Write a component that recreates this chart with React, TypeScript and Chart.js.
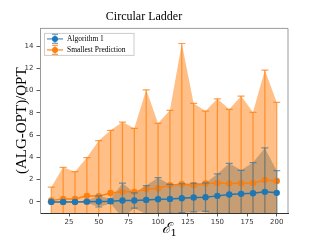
import React, { useEffect, useRef } from "react";
import { Chart, registerables } from "chart.js";
Chart.register(...registerables);

const xValues = [10, 20, 30, 40, 50, 60, 70, 80, 90, 100, 110, 120, 130, 140, 150, 160, 170, 180, 190, 200];
const algMean = [0.0, 0.0, 0.0, 0.02, 0.04, 0.06, 0.12, 0.12, 0.18, 0.24, 0.27, 0.33, 0.39, 0.42, 0.54, 0.66, 0.72, 0.78, 0.9, 0.81];
const algStd = [0.0, 0.0, 0.0, 0.1, 0.5, 0.2, 1.56, 0.69, 1.29, 1.94, 1.3, 1.3, 1.29, 1.28, 1.97, 2.81, 2.12, 2.75, 3.95, 2.0];
const predMean = [0.12, 0.27, 0.27, 0.54, 0.5, 0.8, 0.9, 0.9, 1.14, 1.22, 1.5, 1.58, 1.5, 1.65, 1.7, 1.65, 1.68, 1.7, 1.97, 1.88];
const predStd = [1.2, 2.84, 2.45, 3.44, 5.0, 5.63, 6.28, 5.71, 8.94, 5.84, 6.73, 12.66, 7.35, 6.52, 7.57, 6.67, 7.83, 6.35, 9.88, 7.06];
const xTicks = [25, 50, 75, 100, 125, 150, 175, 200];
const yTicks = [0, 2, 4, 6, 8, 10, 12, 14];
const seriesNames = ["Algorithm 1", "Smallest Prediction"];
const chartTitle = "Circular Ladder";
const xTitleMain = "ℰ";
const xTitleSub = "1";
const yTitle = "(ALG-OPT)/OPT";

const BLUE = "#1f77b4";
const ORANGE = "#ff7f0e";
const BLUE_ERR = "rgba(31,119,180,0.65)";
const ORANGE_ERR = "rgba(255,127,14,0.75)";
const SERIF = "'Liberation Serif', 'DejaVu Serif', serif";
const SANS = "'DejaVu Sans', sans-serif";

function pts(ys: number[]) {
  return xValues.map((x, i) => ({ x, y: ys[i] }));
}
function band(mean: number[], std: number[], sign: number) {
  return xValues.map((x, i) => ({ x, y: mean[i] + sign * std[i] }));
}
function errSegments(mean: number[], std: number[]) {
  const out: { x: number; y: number | null }[] = [];
  xValues.forEach((x, i) => {
    out.push({ x, y: mean[i] - std[i] });
    out.push({ x, y: mean[i] + std[i] });
    out.push({ x, y: null });
  });
  return out;
}

function drawHandle(ctx: CanvasRenderingContext2D, x: number, y: number, color: string, errColor: string) {
  // x: left of handle, y: center
  ctx.strokeStyle = errColor;
  ctx.lineWidth = 1.5;
  ctx.beginPath();
  ctx.moveTo(x, y);
  ctx.lineTo(x + 16, y);
  ctx.stroke();
  ctx.lineWidth = 1.1;
  ctx.beginPath();
  ctx.moveTo(x + 8, y - 4.5);
  ctx.lineTo(x + 8, y + 4.5);
  ctx.moveTo(x + 5, y - 4.5);
  ctx.lineTo(x + 11, y - 4.5);
  ctx.moveTo(x + 5, y + 4.5);
  ctx.lineTo(x + 11, y + 4.5);
  ctx.stroke();
  ctx.fillStyle = color;
  ctx.beginPath();
  ctx.arc(x + 8, y, 3, 0, Math.PI * 2);
  ctx.fill();
}

const framePlugin = {
  id: "frame",
  afterDraw(chart: any) {
    const { ctx, chartArea } = chart;
    ctx.save();
    // top and right spines
    ctx.strokeStyle = "#9a9a9a";
    ctx.lineWidth = 1;
    ctx.beginPath();
    ctx.moveTo(chartArea.left, chartArea.top);
    ctx.lineTo(chartArea.right, chartArea.top);
    ctx.lineTo(chartArea.right, chartArea.bottom);
    ctx.stroke();

    // legend
    const lx = chartArea.left + 4.5;
    const ly = chartArea.top + 5;
    ctx.fillStyle = "rgba(255,255,255,0.8)";
    ctx.fillRect(lx, ly, 89.5, 22);
    ctx.strokeStyle = "#cccccc";
    ctx.lineWidth = 1;
    ctx.strokeRect(lx, ly, 89.5, 22);
    const colors = [BLUE, ORANGE];
    const errs = [BLUE_ERR, ORANGE_ERR];
    seriesNames.forEach((n, i) => {
      const cy = ly + 5.5 + i * 11;
      drawHandle(ctx, lx + 2.5, cy, colors[i], errs[i]);
      ctx.fillStyle = "#000";
      ctx.font = `7.5px ${SERIF}`;
      ctx.textAlign = "left";
      ctx.textBaseline = "middle";
      ctx.fillText(n, lx + 22.5, cy + 0.5);
    });

    // x title
    const cx = (chartArea.left + chartArea.right) / 2;
    ctx.fillStyle = "#000";
    ctx.textBaseline = "alphabetic";
    ctx.textAlign = "left";
    ctx.font = `italic 15px 'DejaVu Serif', serif`;
    const w = ctx.measureText(xTitleMain).width;
    ctx.fillText(xTitleMain, cx - 1 - w / 2 + 3, 233);
    ctx.font = `10px 'DejaVu Serif', serif`;
    ctx.fillText(xTitleSub, cx + w / 2 + 2, 236);
    ctx.restore();
  },
};

export default function App() {
  const ref = useRef<HTMLCanvasElement>(null);
  useEffect(() => {
    document.body.style.margin = "0";
    const chart = new Chart(ref.current!, {
      type: "line",
      data: {
        datasets: [
          {
            label: seriesNames[0],
            data: pts(algMean),
            borderColor: BLUE,
            backgroundColor: BLUE,
            borderWidth: 1.5,
            pointRadius: 3.2,
            pointBorderWidth: 0,
            pointBackgroundColor: BLUE,
            fill: false,
            order: 1,
          },
          {
            label: "alg-err",
            data: errSegments(algMean, algStd),
            borderColor: BLUE_ERR,
            borderWidth: 1.2,
            pointStyle: "line",
            pointRadius: 3.5,
            pointBorderColor: BLUE_ERR,
            pointBorderWidth: 1.2,
            spanGaps: false,
            fill: false,
            order: 2,
          },
          {
            label: seriesNames[1],
            data: pts(predMean),
            borderColor: ORANGE,
            backgroundColor: ORANGE,
            borderWidth: 1.5,
            pointRadius: 3.2,
            pointBorderWidth: 0,
            pointBackgroundColor: ORANGE,
            fill: false,
            order: 3,
          },
          {
            label: "pred-err",
            data: errSegments(predMean, predStd),
            borderColor: ORANGE_ERR,
            borderWidth: 1.2,
            pointStyle: "line",
            pointRadius: 3.5,
            pointBorderColor: ORANGE_ERR,
            pointBorderWidth: 1.2,
            spanGaps: false,
            fill: false,
            order: 4,
          },
          {
            label: "pred-up",
            data: band(predMean, predStd, 1),
            borderWidth: 0,
            pointRadius: 0,
            backgroundColor: "rgba(255,127,14,0.5)",
            fill: "+1",
            order: 5,
          },
          {
            label: "pred-lo",
            data: band(predMean, predStd, -1),
            borderWidth: 0,
            pointRadius: 0,
            fill: false,
            order: 6,
          },
          {
            label: "alg-up",
            data: band(algMean, algStd, 1),
            borderWidth: 0,
            pointRadius: 0,
            backgroundColor: "rgba(31,119,180,0.5)",
            fill: "+1",
            order: 7,
          },
          {
            label: "alg-lo",
            data: band(algMean, algStd, -1),
            borderWidth: 0,
            pointRadius: 0,
            fill: false,
            order: 8,
          },
        ] as any,
      },
      options: {
        animation: false,
        responsive: false,
        events: [],
        layout: { padding: { left: 0, right: 32, top: 0, bottom: 0 } },
        scales: {
          x: {
            type: "linear",
            min: 0.5,
            max: 209.5,
            afterBuildTicks: (s: any) => {
              s.ticks = xTicks.map((v) => ({ value: v }));
            },
            afterFit: (s: any) => {
              s.height = 27;
            },
            grid: { drawOnChartArea: false, drawTicks: true, tickLength: 3.5, tickColor: "#333", tickWidth: 0.8 },
            border: { display: true, color: "#333", width: 1 },
            ticks: { font: { family: SANS, size: 7 }, color: "#333", padding: 1.5, maxRotation: 0, autoSkip: false },
          },
          y: {
            type: "linear",
            min: -1,
            max: 15.6,
            afterBuildTicks: (s: any) => {
              s.ticks = yTicks.map((v) => ({ value: v }));
            },
            afterFit: (s: any) => {
              s.width = 40;
            },
            grid: { drawOnChartArea: false, drawTicks: true, tickLength: 3.5, tickColor: "#333", tickWidth: 0.8 },
            border: { display: true, color: "#9a9a9a", width: 1 },
            ticks: { font: { family: SANS, size: 7 }, color: "#333", padding: 3, autoSkip: false },
            title: { display: true, text: yTitle, font: { family: SERIF, size: 15 }, color: "#000", padding: { top: 13, bottom: 0 } },
          },
        },
        plugins: {
          title: {
            display: true,
            text: chartTitle,
            font: { family: SERIF, size: 12, weight: "normal" },
            color: "#000",
            padding: { top: 10, bottom: 4 },
          },
          legend: { display: false },
          tooltip: { enabled: false },
        },
      } as any,
      plugins: [framePlugin],
    });
    return () => chart.destroy();
  }, []);
  return <canvas ref={ref} width={320} height={240} style={{ display: "block" }} />;
}
